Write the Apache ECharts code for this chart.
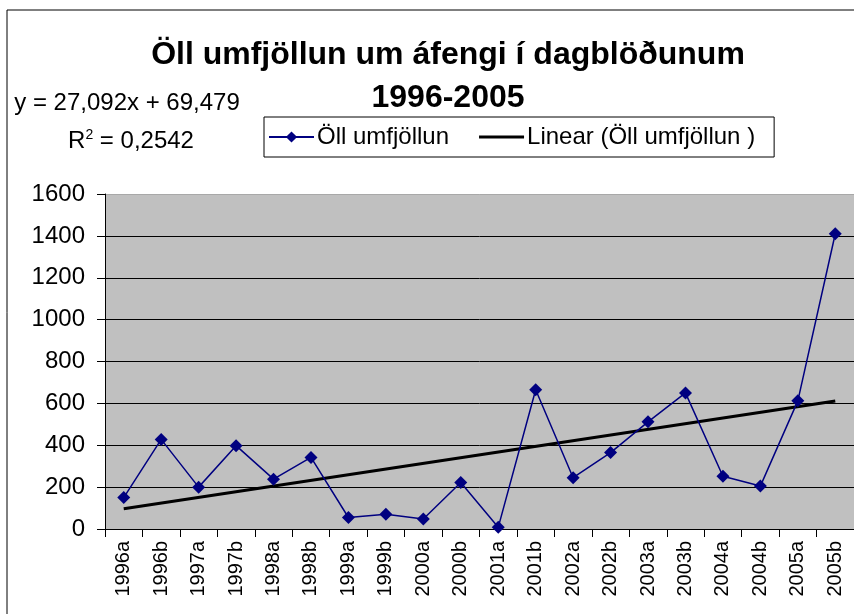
<!DOCTYPE html>
<html>
<head>
<meta charset="utf-8">
<title>Öll umfjöllun um áfengi í dagblöðunum</title>
<script src="https://cdn.jsdelivr.net/npm/echarts@6/dist/echarts.min.js"></script>
<style>
  html, body { margin: 0; padding: 0; background: #fff; }
  #chart { width: 854px; height: 614px; }
</style>
</head>
<body>
<div id="chart"></div>
<script>
const categories = [
  "1996a", "1996b", "1997a", "1997b", "1998a", "1998b", "1999a", "1999b", "2000a", "2000b",
  "2001a", "2001b", "2002a", "2002b", "2003a", "2003b", "2004a", "2004b", "2005a", "2005b"
];
const coverage = [150, 428, 200, 398, 238, 342, 55, 70, 48, 222, 8, 665, 245, 365, 512, 650, 252, 205, 612, 1410];
// linear trend, read at its two ends
const trendFirst = 97;
const trendLast = 611;
const yTicks = [0, 1600, 200];

const trend = categories.map((c, i) =>
  i === 0 ? trendFirst : i === categories.length - 1 ? trendLast : null
);

const font = "'Liberation Sans', Arial, sans-serif";

const chart = echarts.init(document.getElementById("chart"));

chart.setOption({
  animation: false,
  backgroundColor: "#fff",
  title: {
    text: "Öll umfjöllun um áfengi í dagblöðunum\n1996-2005",
    left: 443,
    top: 29,
    textAlign: "center",
    textStyle: {
      fontFamily: font,
      fontWeight: "bold",
      fontSize: 32,
      lineHeight: 43,
      color: "#000"
    }
  },
  legend: {
    left: 264,
    top: 117,
    padding: [8, 19, 8, 4],
    itemGap: 30,
    itemWidth: 45,
    itemHeight: 14,
    borderColor: "#000",
    borderWidth: 1,
    textStyle: { fontFamily: font, fontSize: 24, color: "#000", padding: [0, 0, 0, -2] },
    data: [
      { name: "Öll umfjöllun" },
      { name: "Linear (Öll umfjöllun )", icon: "path://M0,0 L45,0 L45,3 L0,3 Z" }
    ]
  },
  graphic: [
    {
      type: "rect",
      shape: { x: 7, y: 10, width: 1000, height: 800 },
      style: { fill: "none", stroke: "#000", lineWidth: 1 },
      silent: true
    },
    {
      type: "text",
      style: {
        text: "y = 27,092x + 69,479",
        x: 127, y: 103,
        align: "center", verticalAlign: "middle",
        font: "24px " + font, fill: "#000"
      }
    },
    {
      type: "text",
      style: {
        text: "{r|R}{s|2}{r| = 0,2542}",
        x: 131, y: 141,
        align: "center", verticalAlign: "middle",
        rich: {
          r: { fontFamily: font, fontSize: 24, color: "#000" },
          s: { fontFamily: font, fontSize: 14, color: "#000", verticalAlign: "top", padding: [0, 0, 12, 0] }
        }
      }
    }
  ],
  grid: {
    left: 105,
    right: 0,
    top: 194,
    bottom: 85,
    show: true,
    backgroundColor: "#c0c0c0",
    borderWidth: 0
  },
  xAxis: {
    type: "category",
    data: categories,
    boundaryGap: true,
    axisLine: { lineStyle: { color: "#000", width: 1 } },
    axisTick: { show: true, interval: 0, length: 8, lineStyle: { color: "#000" } },
    axisLabel: {
      interval: 0,
      rotate: 90,
      margin: 12,
      fontFamily: font,
      fontSize: 20,
      color: "#000"
    }
  },
  yAxis: {
    type: "value",
    min: yTicks[0],
    max: yTicks[1],
    interval: yTicks[2],
    axisLine: { show: true, lineStyle: { color: "#000", width: 1 } },
    axisTick: { show: true, length: 8, lineStyle: { color: "#000" } },
    axisLabel: {
      margin: 20,
      fontFamily: font,
      fontSize: 24,
      color: "#000",
      formatter: (v) => String(v)
    },
    splitLine: {
      lineStyle: {
        color: ["#000", "#000", "#000", "#000", "#000", "#000", "#000", "#000", "#a8a8a8"],
        width: 1
      }
    }
  },
  series: [
    {
      name: "Öll umfjöllun",
      type: "line",
      data: coverage,
      symbol: "diamond",
      symbolSize: 13,
      lineStyle: { color: "#000080", width: 1.5 },
      itemStyle: { color: "#000080" },
      z: 3
    },
    {
      name: "Linear (Öll umfjöllun )",
      type: "line",
      data: trend,
      connectNulls: true,
      symbol: "none",
      lineStyle: { color: "#000", width: 3 },
      itemStyle: { color: "#000" },
      z: 2
    }
  ]
});

window.addEventListener("resize", () => chart.resize());
</script>
</body>
</html>
